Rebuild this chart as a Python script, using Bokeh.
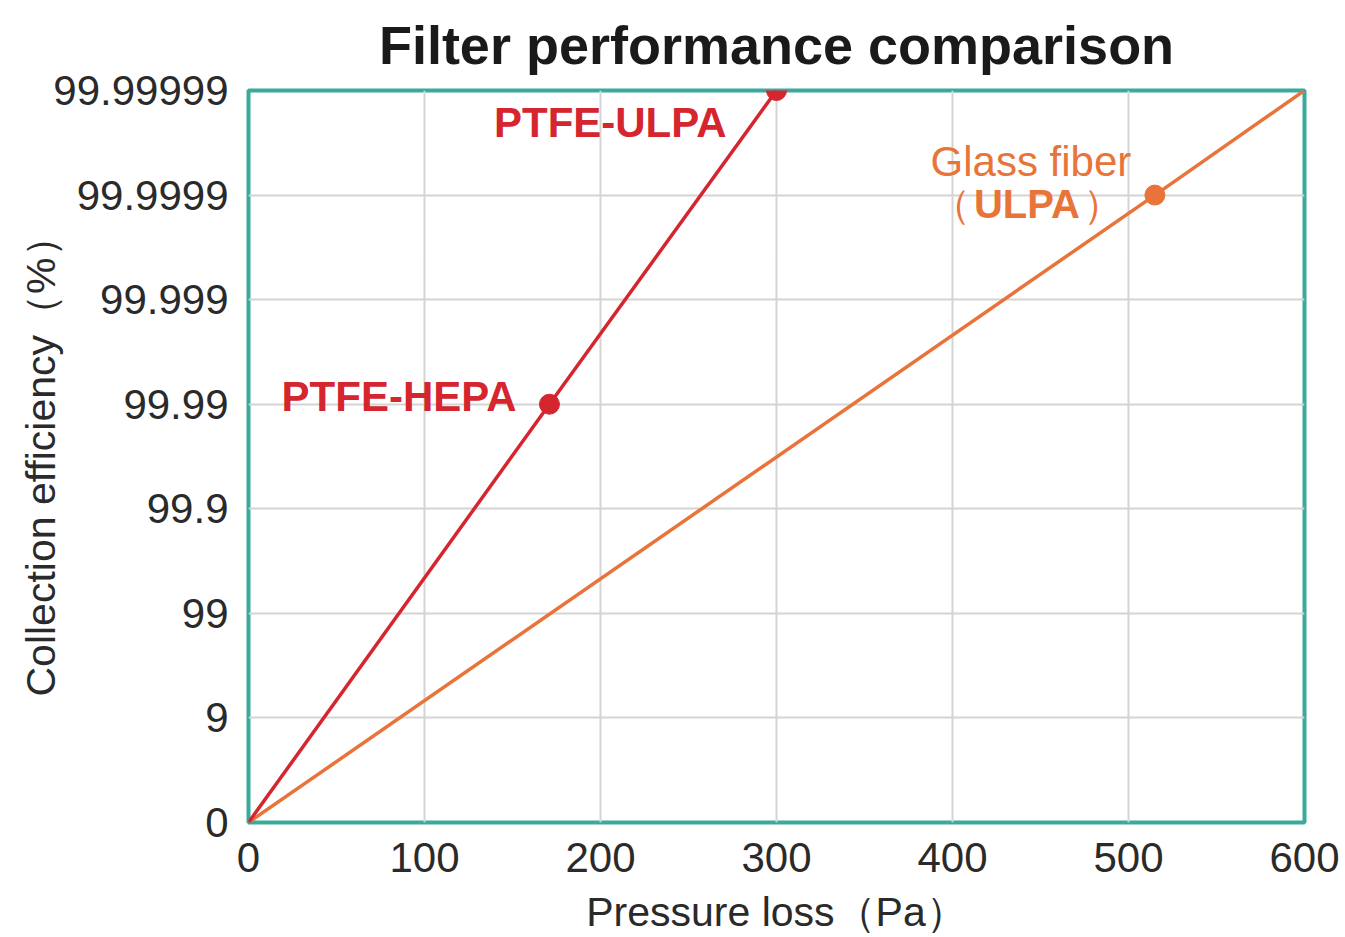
from bokeh.plotting import figure
from bokeh.models import Range1d, FixedTicker
from bokeh.core.properties import value
from bokeh.embed import file_html
from bokeh.resources import INLINE

# ---- data ----
efficiency_labels = ["0", "9", "99", "99.9", "99.99", "99.999", "99.9999", "99.99999"]
pressure_ticks = [0, 100, 200, 300, 400, 500, 600]

ptfe_pressure = [0, 171, 300]
ptfe_level = [0, 4, 7]
ptfe_point_pressure = [171, 300]
ptfe_point_level = [4, 7]
ptfe_point_names = ["PTFE-HEPA", "PTFE-ULPA"]

glass_pressure = [0, 515, 600]
glass_level = [0, 6, 7]
glass_point_pressure = [515]
glass_point_level = [6]

title_text = "Filter performance comparison"

RED = "#d5252f"
ORANGE = "#e8743a"
TEAL = "#3aaa9b"
FONT = "Liberation Sans"

x_min, x_max = 0, 600
y_min, y_max = 0, len(efficiency_labels) - 1

p = figure(width=1345, height=937, output_backend="svg", toolbar_location=None,
           x_range=Range1d(x_min, x_max), y_range=Range1d(y_min, y_max),
           min_border_left=248, min_border_right=41, min_border_top=90, min_border_bottom=115)

p.title.text = title_text
p.title.text_font = FONT
p.title.text_font_size = "54px"
p.title.text_font_style = "bold"
p.title.text_color = "#1a1a1a"
p.title.align = "center"
p.title.vertical_align = "top"
p.title.standoff = 28

p.outline_line_color = TEAL
p.outline_line_width = 4
p.outline_line_alpha = 1

for ax in (p.xaxis[0], p.yaxis[0]):
    ax.axis_line_color = None
    ax.major_tick_line_color = None
    ax.minor_tick_line_color = None
    ax.major_label_text_font = FONT
    ax.major_label_text_font_size = "42px"
    ax.major_label_text_color = "#2a2a2a"
    ax.axis_label_text_font = FONT
    ax.axis_label_text_font_size = "41px"
    ax.axis_label_text_font_style = "normal"
    ax.axis_label_text_color = "#2a2a2a"

p.xaxis.ticker = FixedTicker(ticks=pressure_ticks)
p.xaxis.major_label_standoff = 14
p.xaxis.axis_label = "Pressure loss（Pa）"
p.xaxis.axis_label_standoff = 14

p.yaxis.ticker = FixedTicker(ticks=list(range(len(efficiency_labels))))
p.yaxis.major_label_overrides = {i: t for i, t in enumerate(efficiency_labels)}
p.yaxis.major_label_standoff = 14
p.yaxis.axis_label = "Collection efficiency（%）"
p.yaxis.axis_label_standoff = -14

p.xgrid.ticker = FixedTicker(ticks=pressure_ticks)
p.ygrid.ticker = FixedTicker(ticks=list(range(len(efficiency_labels))))
p.grid.grid_line_color = "#d4d4d4"
p.grid.grid_line_width = 2

p.line(glass_pressure, glass_level, line_color=ORANGE, line_width=3.5)
p.line(ptfe_pressure, ptfe_level, line_color=RED, line_width=3.5)
p.scatter(glass_point_pressure, glass_point_level, size=20, fill_color=ORANGE, line_color=ORANGE)
p.scatter(ptfe_point_pressure, ptfe_point_level, size=20, fill_color=RED, line_color=RED)

# labels
p.text([ptfe_point_pressure[1]], [ptfe_point_level[1]], text=[ptfe_point_names[1]],
       x_offset=-50, y_offset=32, text_align="right", text_baseline="middle",
       text_font=value(FONT), text_font_size="42px", text_font_style="bold", text_color=RED)
p.text([ptfe_point_pressure[0]], [ptfe_point_level[0]], text=[ptfe_point_names[0]],
       x_offset=-33, y_offset=-8, text_align="right", text_baseline="middle",
       text_font=value(FONT), text_font_size="42px", text_font_style="bold", text_color=RED)
p.text(glass_point_pressure, glass_point_level, text=["Glass fiber"],
       x_offset=-124, y_offset=-34, text_align="center", text_baseline="middle",
       text_font=value(FONT), text_font_size="42px", text_color=ORANGE)
p.text(glass_point_pressure, glass_point_level, text=["ULPA"],
       x_offset=-128, y_offset=9, text_align="center", text_baseline="middle",
       text_font=value(FONT), text_font_size="40px", text_font_style="bold", text_color=ORANGE)
p.text(glass_point_pressure, glass_point_level, text=["（"],
       x_offset=-184, y_offset=9, text_align="right", text_baseline="middle",
       text_font=value(FONT), text_font_size="40px", text_color=ORANGE)
p.text(glass_point_pressure, glass_point_level, text=["）"],
       x_offset=-72, y_offset=9, text_align="left", text_baseline="middle",
       text_font=value(FONT), text_font_size="40px", text_color=ORANGE)

open("out.html", "w").write(file_html(p, INLINE))
